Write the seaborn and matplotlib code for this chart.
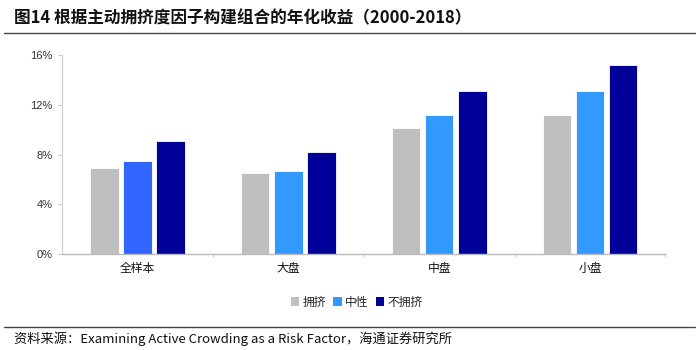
import matplotlib
matplotlib.use("Agg")
import matplotlib.pyplot as plt
import seaborn as sns
import pandas as pd
from matplotlib.lines import Line2D
from matplotlib.patches import Patch

categories = ["全样本", "大盘", "中盘", "小盘"]
series = ["拥挤", "中性", "不拥挤"]
crowded = [6.9, 6.5, 10.15, 11.2]
neutral = [7.5, 6.7, 11.2, 13.1]
uncrowded = [9.1, 8.2, 13.1, 15.2]
yticks = [0, 4, 8, 12, 16]
ytick_labels = ["0%", "4%", "8%", "12%", "16%"]

colors = ["#BFBFBF", "#3399FF", "#000099"]

sns.set_theme(style="white")
plt.rcParams["font.family"] = ["Noto Sans CJK SC", "DejaVu Sans"]

rows = []
for s, vals in zip(series, [crowded, neutral, uncrowded]):
    for c, v in zip(categories, vals):
        rows.append({"cat": c, "series": s, "val": v})
df = pd.DataFrame(rows)

fig = plt.figure(figsize=(7, 3.5), dpi=100)
ax = fig.add_axes([0.0886, 0.274, 0.862, 0.569])
sns.barplot(data=df, x="cat", y="val", hue="series", order=categories,
            hue_order=series, palette=colors, saturation=1, width=0.66, gap=0.14,
            edgecolor="white", linewidth=0.6, legend=False, ax=ax)

# first group's neutral bar is a slightly different blue in the reference
for p in ax.patches:
    x = p.get_x() + p.get_width() / 2
    if abs(x - 0.0) < 0.05 and abs(p.get_height() - neutral[0]) < 1e-6:
        p.set_facecolor("#3366FF")

ax.set_ylim(0, 16)
ax.set_xlim(-0.5, 3.5)
ax.set_yticks(yticks)
ax.set_yticklabels(ytick_labels, fontfamily=["Liberation Sans", "DejaVu Sans"],
                   fontsize=8, color="#333333")
ax.set_xticks(range(len(categories)))
ax.set_xticklabels(categories, fontsize=8.5, color="#111111")
ax.tick_params(axis="x", length=0, pad=6)
ax.tick_params(axis="y", left=True, length=3, width=0.6, color="#BBBBBB", pad=4)
ax.set_xlabel("")
ax.set_ylabel("")
for s in ["top", "right"]:
    ax.spines[s].set_visible(False)
ax.spines["left"].set_color("#CCCCCC")
ax.spines["left"].set_linewidth(0.8)
ax.spines["bottom"].set_color("#BBBBBB")
ax.spines["bottom"].set_linewidth(1.0)
for xb in [0.5, 1.5, 2.5, 3.5]:
    ax.plot([xb, xb], [0, -0.18], color="#BBBBBB", lw=0.8, clip_on=False)

handles = [Patch(facecolor=c, edgecolor="none") for c in colors]
fig.legend(handles, series, loc="center", bbox_to_anchor=(0.51, 0.137), ncol=3,
           frameon=False, fontsize=8.5, handlelength=0.7, handleheight=0.7,
           handletextpad=0.3, columnspacing=0.6)

fig.text(0.02, 0.948, "图14 根据主动拥挤度因子构建组合的年化收益（2000-2018）",
         fontsize=12, fontweight="bold", va="center", ha="left", color="#111111")
fig.add_artist(Line2D([0.005, 0.993], [0.905, 0.905], color="#444444", lw=1.0))
fig.add_artist(Line2D([0.005, 0.993], [0.066, 0.066], color="#444444", lw=1.0))
fig.text(0.02, 0.033, "资料来源：Examining Active Crowding as a Risk Factor，海通证券研究所",
         fontsize=9.5, va="center", ha="left", color="#111111")

fig.savefig("out.png", dpi=100)
